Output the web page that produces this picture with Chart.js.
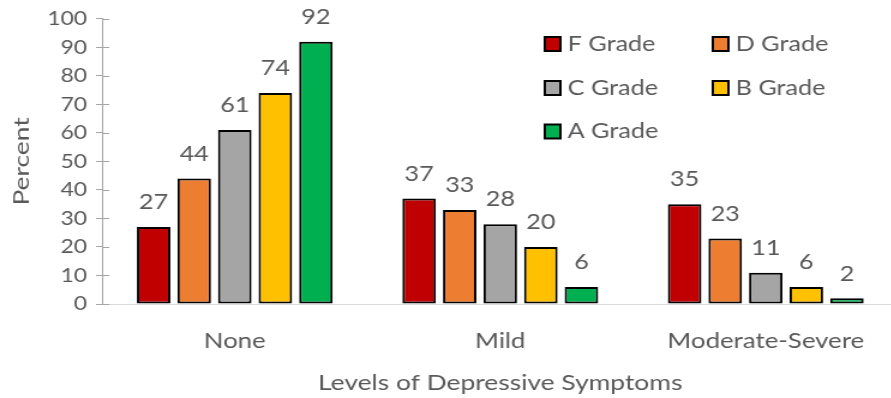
<!DOCTYPE html>
<html>
<head>
<meta charset="utf-8">
<script src="https://cdn.jsdelivr.net/npm/chart.js@4/dist/chart.umd.min.js"></script>
<style>
  html, body { margin: 0; padding: 0; background: #ffffff; overflow: hidden; }
</style>
</head>
<body>
<canvas id="chart" width="750" height="398" style="display:block;width:900px;height:398px"></canvas>
<script>
// Share of students at each level of depressive symptoms, by grade
const categories = ['None', 'Mild', 'Moderate-Severe'];
const seriesNames = ['F Grade', 'D Grade', 'C Grade', 'B Grade', 'A Grade'];
const fGrade = [27, 37, 35];
const dGrade = [44, 33, 23];
const cGrade = [61, 28, 11];
const bGrade = [74, 20, 6];
const aGrade = [92, 6, 2];
const yTicks = [0, 10, 20, 30, 40, 50, 60, 70, 80, 90, 100];

const seriesValues = [fGrade, dGrade, cGrade, bGrade, aGrade];
const seriesColors = ['#C00000', '#ED7D31', '#A5A5A5', '#FFC000', '#00B050'];

const FONT = 'Lato, Carlito, Calibri, "Noto Sans", sans-serif';
const TEXT = '#595959';
const AXIS = '#A6A6A6';

// Short tick marks on the inner side of the value axis
const innerTicks = {
  id: 'innerTicks',
  afterDraw(chart) {
    const y = chart.scales.y;
    const ctx = chart.ctx;
    ctx.save();
    ctx.strokeStyle = AXIS;
    ctx.lineWidth = 1;
    y.ticks.forEach(t => {
      const py = Math.round(y.getPixelForValue(t.value)) + 0.5;
      ctx.beginPath();
      ctx.moveTo(y.right, py);
      ctx.lineTo(y.right + 6, py);
      ctx.stroke();
    });
    ctx.restore();
  }
};

// Rotated value-axis title, drawn with a wider glyph run
const yTitle = {
  id: 'yTitle',
  afterDraw(chart) {
    const ctx = chart.ctx;
    const area = chart.chartArea;
    ctx.save();
    ctx.translate(18.3, (area.top + area.bottom) / 2);
    ctx.rotate(-Math.PI / 2);
    ctx.scale(1.55, 1);
    ctx.font = '17px ' + FONT;
    ctx.fillStyle = TEXT;
    ctx.textAlign = 'center';
    ctx.textBaseline = 'middle';
    ctx.fillText('Percent', 0, 0);
    ctx.restore();
  }
};

// Value labels above each bar
const valueLabels = {
  id: 'valueLabels',
  afterDatasetsDraw(chart) {
    const ctx = chart.ctx;
    ctx.save();
    ctx.font = '21px ' + FONT;
    ctx.fillStyle = TEXT;
    ctx.textAlign = 'center';
    ctx.textBaseline = 'middle';
    chart.data.datasets.forEach((ds, i) => {
      chart.getDatasetMeta(i).data.forEach((bar, j) => {
        ctx.fillText(String(ds.data[j]), bar.x, bar.y - 24.5);
      });
    });
    ctx.restore();
  }
};

// Two-column legend in the upper right of the plot
const gridLegend = {
  id: 'gridLegend',
  afterDraw(chart) {
    const ctx = chart.ctx;
    const colX = [454, 594];
    const rowY = [44, 88, 131.5];
    ctx.save();
    ctx.font = '21px ' + FONT;
    ctx.textAlign = 'left';
    ctx.textBaseline = 'middle';
    chart.data.datasets.forEach((ds, i) => {
      const x = colX[i % 2];
      const y = rowY[Math.floor(i / 2)];
      ctx.fillStyle = ds.backgroundColor;
      ctx.fillRect(x, y - 7, 13, 14);
      ctx.lineWidth = 2;
      ctx.strokeStyle = '#000000';
      ctx.strokeRect(x, y - 7, 13, 14);
      ctx.fillStyle = TEXT;
      ctx.fillText(ds.label, x + 19, y);
    });
    ctx.restore();
  }
};

new Chart(document.getElementById('chart'), {
  type: 'bar',
  data: {
    labels: categories,
    datasets: seriesNames.map((name, i) => ({
      label: name,
      data: seriesValues[i],
      backgroundColor: seriesColors[i],
      borderColor: '#000000',
      borderWidth: 2,
      borderSkipped: false,
      categoryPercentage: 0.764,
      barPercentage: 0.826
    }))
  },
  options: {
    responsive: false,
    devicePixelRatio: 1,
    animation: false,
    layout: { padding: { top: 16, right: 1.25, bottom: 0, left: 0 } },
    plugins: {
      legend: { display: false },
      tooltip: { enabled: false }
    },
    scales: {
      x: {
        grid: { display: false },
        border: { display: true, color: '#D9D9D9', width: 1 },
        ticks: { color: TEXT, font: { family: FONT, size: 21.5 }, padding: 16, maxRotation: 0 },
        title: {
          display: true,
          text: 'Levels of Depressive Symptoms',
          color: TEXT,
          font: { family: FONT, size: 22 },
          padding: { top: 0, bottom: 2 }
        },
        afterFit(scale) { scale.height = 94; }
      },
      y: {
        min: 0,
        max: 100,
        afterBuildTicks(scale) { scale.ticks = yTicks.map(v => ({ value: v })); },
        grid: { drawOnChartArea: false, drawTicks: true, tickLength: 5, color: AXIS, lineWidth: 1 },
        border: { display: true, color: AXIS, width: 1 },
        ticks: { color: TEXT, font: { family: FONT, size: 19 }, padding: 7.5 },
        title: { display: false },
        afterFit(scale) { scale.width = 85; }
      }
    }
  },
  plugins: [innerTicks, yTitle, valueLabels, gridLegend]
});
</script>
</body>
</html>
